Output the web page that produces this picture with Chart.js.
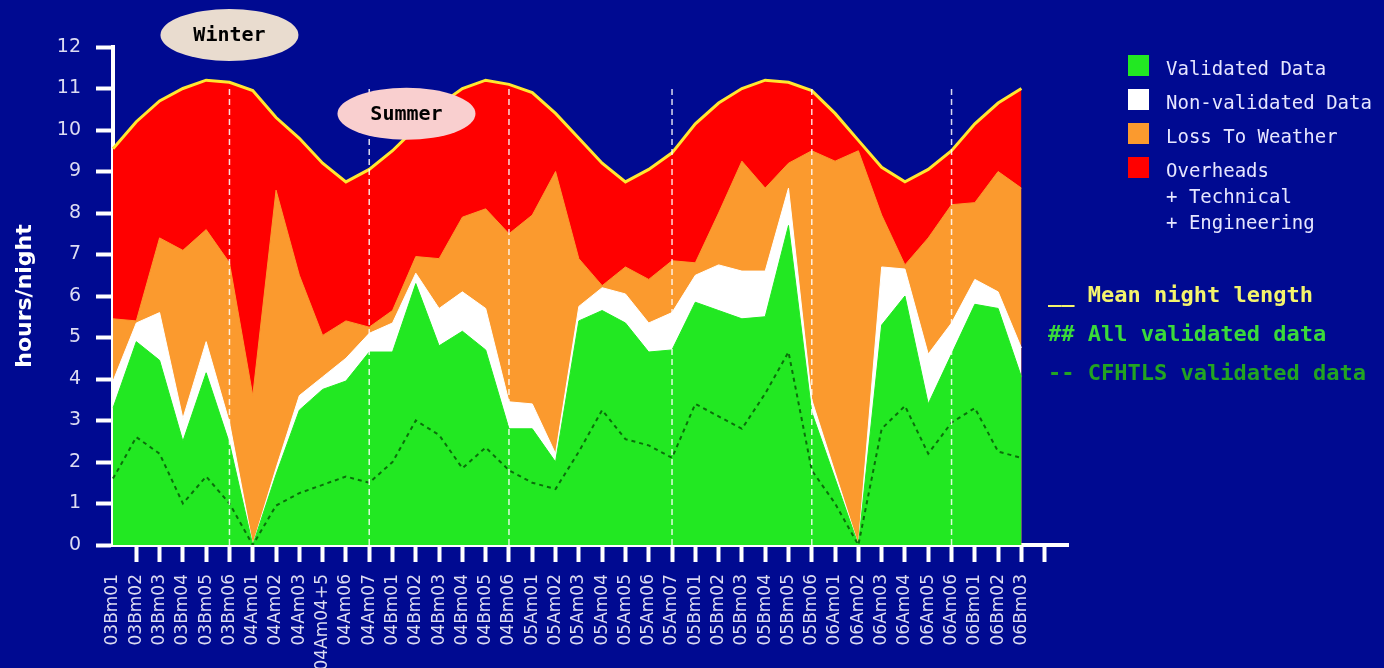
<!DOCTYPE html>
<html>
<head>
<meta charset="utf-8">
<script src="https://cdn.jsdelivr.net/npm/chart.js@4.4.0/dist/chart.umd.min.js"></script>
<style>
  html, body { margin: 0; padding: 0; background: #000a91; overflow: hidden; }
  #wrap { position: relative; width: 1384px; height: 668px; }
  #chart { position: absolute; left: 0; top: 0; }
  .sq { position: absolute; width: 21px; height: 21px; }
  .leg { position: absolute; font-family: 'DejaVu Sans Mono', monospace; font-size: 19px; line-height: 1; color: #e6e6ff; white-space: pre; }
  .note { position: absolute; font-family: 'DejaVu Sans Mono', monospace; font-weight: bold; font-size: 22px; line-height: 1; white-space: pre; }
</style>
</head>
<body>
<div id="wrap">
  <canvas id="chart" width="1384" height="668"></canvas>
  <div id="legend"></div>
</div>
<script>
// observing periods (semester + month)
const periods = [
    '03Bm01', '03Bm02', '03Bm03', '03Bm04', '03Bm05', '03Bm06',
    '04Am01', '04Am02', '04Am03', '04Am04+5', '04Am06', '04Am07',
    '04Bm01', '04Bm02', '04Bm03', '04Bm04', '04Bm05', '04Bm06',
    '05Am01', '05Am02', '05Am03', '05Am04', '05Am05', '05Am06', '05Am07',
    '05Bm01', '05Bm02', '05Bm03', '05Bm04', '05Bm05', '05Bm06',
    '06Am01', '06Am02', '06Am03', '06Am04', '06Am05', '06Am06',
    '06Bm01', '06Bm02', '06Bm03'
];

// hours/night, read as the top edge of each band
const nightLength = [
    9.55, 10.2, 10.7, 11.0, 11.2, 11.15, 10.95, 10.3, 9.8, 9.2, 8.75, 9.05,
    9.5, 10.05, 10.6, 11.0, 11.2, 11.1, 10.9, 10.4, 9.8, 9.2, 8.75, 9.05, 9.45,
    10.15, 10.65, 11.0, 11.2, 11.15, 10.95, 10.4, 9.75, 9.1, 8.75, 9.05, 9.5,
    10.15, 10.65, 11.0
];
const weatherTop = [
    5.45, 5.4, 7.4, 7.1, 7.6, 6.8, 3.6, 8.55, 6.5, 5.05, 5.4, 5.25,
    5.65, 6.95, 6.9, 7.9, 8.1, 7.5, 7.95, 9.0, 6.9, 6.25, 6.7, 6.4, 6.85,
    6.8, 8.0, 9.25, 8.6, 9.2, 9.5, 9.25, 9.5, 7.95, 6.75, 7.4, 8.2,
    8.25, 9.0, 8.6
];
const nonValidatedTop = [
    3.95, 5.35, 5.6, 3.05, 4.9, 2.95, 0, 1.85, 3.6, 4.05, 4.5, 5.1,
    5.35, 6.55, 5.7, 6.1, 5.7, 3.45, 3.4, 2.2, 5.75, 6.2, 6.05, 5.35, 5.6,
    6.5, 6.75, 6.6, 6.6, 8.6, 3.5, 1.75, 0, 6.7, 6.65, 4.6, 5.35,
    6.4, 6.1, 4.75
];
const validatedHours = [
    3.3, 4.9, 4.45, 2.5, 4.15, 2.45, 0, 1.7, 3.25, 3.75, 3.95, 4.65,
    4.65, 6.3, 4.8, 5.15, 4.7, 2.8, 2.8, 2.0, 5.4, 5.65, 5.35, 4.65, 4.7,
    5.85, 5.65, 5.45, 5.5, 7.7, 3.2, 1.6, 0, 5.3, 6.0, 3.4, 4.6,
    5.8, 5.7, 4.05
];
const cfhtlsHours = [
    1.6, 2.6, 2.2, 1.0, 1.65, 1.0, 0, 0.95, 1.25, 1.45, 1.65, 1.5,
    2.0, 3.0, 2.65, 1.85, 2.35, 1.8, 1.5, 1.35, 2.25, 3.25, 2.55, 2.4, 2.1,
    3.4, 3.1, 2.8, 3.65, 4.65, 1.8, 1.0, 0, 2.8, 3.35, 2.2, 2.95,
    3.3, 2.25, 2.1
];

// last period of each semester, marked with a dashed line
const semesterEnds = ['03Bm06', '04Am07', '04Bm06', '05Am07', '05Bm06', '06Am06'];

const bandLabels = ['Validated Data', 'Non-validated Data', 'Loss To Weather', 'Overheads'];
const bandColors = ['#22e822', '#ffffff', '#fb9a2e', '#ff0000'];
const overheadNotes = ['+ Technical', '+ Engineering'];
const lineNotes = [
    { text: '__ Mean night length', color: '#f4f46c' },
    { text: '## All validated data', color: '#3ada3a' },
    { text: '-- CFHTLS validated data', color: '#22a422' }
];

const seasons = [
    { text: 'Winter', index: 5, hours: 12.29, fill: '#e9dccf' },
    { text: 'Summer', index: 12.6, hours: 10.39, fill: '#f9cfcf' }
];

function buildLegend() {
    const box = document.getElementById('legend');
    let html = '';
    bandLabels.forEach((label, i) => {
        const center = 68 + i * 34;
        html += `<div class="sq" style="left:1128px; top:${center - 13}px; background:${bandColors[i]}"></div>`;
        html += `<div class="leg" style="left:1166px; top:${center - 9}px">${label}</div>`;
    });
    overheadNotes.forEach((note, i) => {
        html += `<div class="leg" style="left:1166px; top:${196 + i * 26 - 9}px">${note}</div>`;
    });
    lineNotes.forEach((note, i) => {
        html += `<div class="note" style="left:1048px; top:${295 + i * 39 - 11}px; color:${note.color}">${note.text}</div>`;
    });
    box.innerHTML = html;
}

const seasonMarks = {
    id: 'seasonMarks',
    afterDatasetsDraw(chart) {
        const { ctx, scales: { x, y } } = chart;
        ctx.save();
        ctx.strokeStyle = 'rgba(255, 255, 255, 0.85)';
        ctx.lineWidth = 1.5;
        ctx.setLineDash([6, 4]);
        semesterEnds.forEach(p => {
            const px = x.getPixelForValue(periods.indexOf(p));
            ctx.beginPath();
            ctx.moveTo(px, y.getPixelForValue(0));
            ctx.lineTo(px, y.getPixelForValue(11));
            ctx.stroke();
        });
        ctx.setLineDash([]);
        seasons.forEach(s => {
            const cx = x.getPixelForValue(s.index);
            const cy = y.getPixelForValue(s.hours);
            ctx.fillStyle = s.fill;
            ctx.beginPath();
            ctx.ellipse(cx, cy, 69, 26, 0, 0, Math.PI * 2);
            ctx.fill();
            ctx.fillStyle = '#000';
            ctx.font = 'bold 20px "DejaVu Sans Mono"';
            ctx.textAlign = 'center';
            ctx.textBaseline = 'middle';
            ctx.fillText(s.text, cx, cy + 1);
        });
        ctx.restore();
    }
};

function area(label, data, color, order) {
    return {
        label: label,
        data: data,
        backgroundColor: color,
        borderColor: color,
        borderWidth: 1,
        fill: 'origin',
        pointRadius: 0,
        tension: 0,
        order: order
    };
}

buildLegend();

new Chart(document.getElementById('chart'), {
    type: 'line',
    data: {
        labels: [...periods, '', ''],
        datasets: [
            area(bandLabels[0], validatedHours, bandColors[0], 2),
            area(bandLabels[1], nonValidatedTop, bandColors[1], 3),
            area(bandLabels[2], weatherTop, bandColors[2], 4),
            Object.assign(area(bandLabels[3], nightLength, bandColors[3], 5), {
                borderColor: '#ffe830',
                borderWidth: 3
            }),
            {
                label: 'CFHTLS validated data',
                data: cfhtlsHours,
                borderColor: '#0a6e0a',
                borderWidth: 2,
                borderDash: [4, 4],
                fill: false,
                pointRadius: 0,
                tension: 0,
                order: 1
            }
        ]
    },
    options: {
        responsive: false,
        animation: false,
        devicePixelRatio: 1,
        layout: { padding: { left: 0, top: 47, right: 316, bottom: 0 } },
        plugins: {
            legend: { display: false },
            tooltip: { enabled: false }
        },
        scales: {
            x: {
                type: 'category',
                offset: false,
                grid: {
                    drawOnChartArea: false,
                    tickLength: 17,
                    tickWidth: 4,
                    tickColor: c => (c.index === 0 || c.index > periods.length) ? 'rgba(0,0,0,0)' : '#ffffff'
                },
                border: { color: '#ffffff', width: 4 },
                ticks: {
                    autoSkip: false,
                    minRotation: 90,
                    maxRotation: 90,
                    padding: 12,
                    color: '#dcdcf2',
                    font: { family: 'DejaVu Sans', size: 17 }
                },
                afterFit: s => { s.height = 123; }
            },
            y: {
                min: 0,
                max: 12,
                grid: {
                    drawOnChartArea: false,
                    tickLength: 17,
                    tickWidth: 4,
                    color: '#ffffff'
                },
                border: { color: '#ffffff', width: 4 },
                ticks: {
                    stepSize: 1,
                    padding: 15,
                    color: '#dcdcf2',
                    font: { family: 'DejaVu Sans', size: 19 }
                },
                title: {
                    display: true,
                    text: 'hours/night',
                    color: '#ffffff',
                    font: { family: 'DejaVu Sans', size: 22, weight: 'bold' },
                    padding: { top: 12, bottom: 0 }
                },
                afterFit: s => { s.width = 113; }
            }
        }
    },
    plugins: [seasonMarks]
});
</script>
</body>
</html>
